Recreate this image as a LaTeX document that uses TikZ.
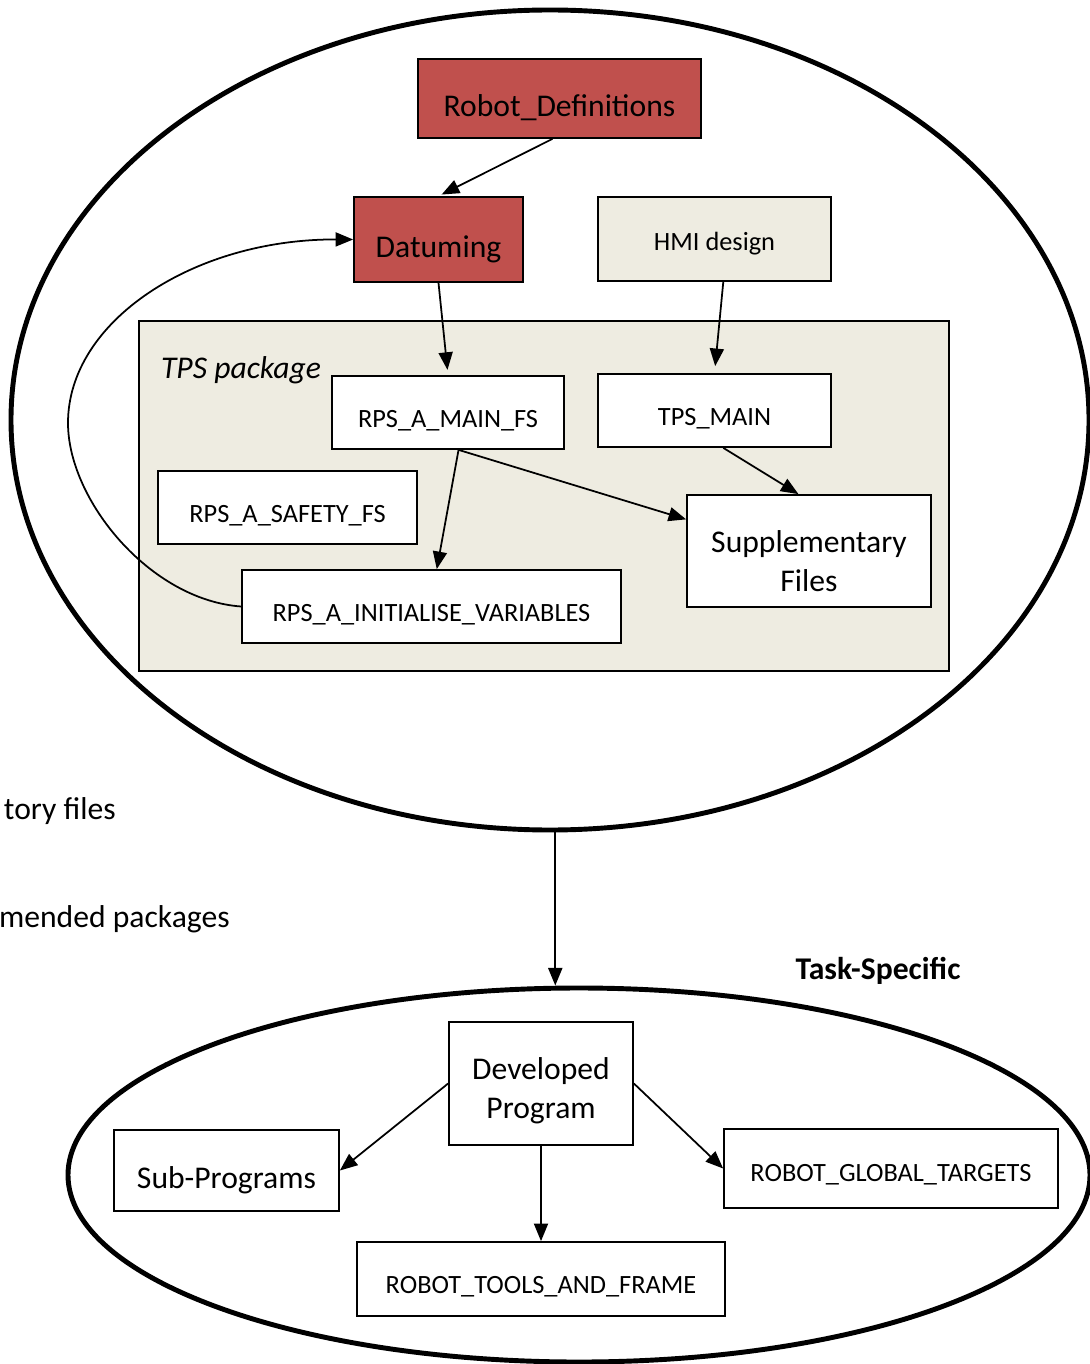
\documentclass[tikz,border=0pt]{standalone}
\usepackage{fontspec}
\setmainfont{Carlito}
\usetikzlibrary{arrows.meta,shapes.geometric}

\definecolor{boxred}{HTML}{C0504D}
\definecolor{pkgbeige}{HTML}{EEECE1}
\newcommand{\bigtxt}{\fontsize{18}{22}\selectfont}
\newcommand{\smalltxt}{\fontsize{15}{18}\selectfont}

\begin{document}
\begin{tikzpicture}[x=0.02cm, y=-0.02cm,
    px/.style 2 args={minimum width=#1*0.02cm, minimum height=#2*0.02cm},
    box/.style={draw, line width=1pt, fill=white, inner sep=0pt,
      text height=19pt, text depth=2pt, font=\smalltxt},
    bigbox/.style={box, text height=23pt, font=\bigtxt},
    redbox/.style={bigbox, fill=boxred},
    link/.style={-{Triangle[length=10pt,width=8pt]}, line width=1pt},
    ring/.style={draw, ellipse, line width=2.8pt, inner sep=0pt}]

  \useasboundingbox (0,0) rectangle (1089,1364);

  % the two groups
  \node[ring, px={1078}{820}] (upper) at (550,420) {};
  \node[ring, px={1022}{374}] (lower) at (579,1175) {};

  % TPS package
  \node[draw, line width=1pt, fill=pkgbeige, px={810}{350}] (pkg) at (544,496) {};
  \node[font=\bigtxt\itshape] (pkglabel) at (241,370) {TPS package};

  \node[redbox, px={283}{79}] (robotdef) at (559.5,98.5) {Robot\_Definitions};
  \node[redbox, px={169}{85}] (datum) at (438.5,239.5) {Datuming};
  \node[box, fill=pkgbeige, text height=15pt, px={233}{84}] (hmi) at (714.5,239) {HMI design};

  \node[box, px={232}{73}] (mainfs) at (448,412.5) {RPS\_A\_MAIN\_FS};
  \node[box, px={233}{73}] (tpsmain) at (714.5,410.5) {TPS\_MAIN};
  \node[box, px={259}{73}] (safety) at (287.5,507.5) {RPS\_A\_SAFETY\_FS};
  \node[bigbox, align=center, text height=46pt, text depth=0pt, px={244}{112}] (supp) at (809,551) {Supplementary\\Files};
  \node[box, px={379}{73}] (init) at (431.5,606.5) {RPS\_A\_INITIALISE\_VARIABLES};

  \draw[link, shorten >=2pt] ([xshift=-4pt]robotdef.south) -- (datum.north);
  \draw[link, shorten >=3pt] (datum.south) -- (mainfs.north);
  \draw[link, shorten >=4pt] ([xshift=5pt]hmi.south) -- (tpsmain.north);
  \draw[link] ([xshift=6pt]mainfs.south) -- ([xshift=3pt]init.north);
  \draw[link] ([xshift=6pt]mainfs.south) -- ([yshift=18pt]supp.west);
  \draw[link] ([xshift=5pt]tpsmain.south) -- ([xshift=-6pt]supp.north);
  \draw[link] (init.west) .. controls (150,600) and (68,500) .. (68,423)
    .. controls (68,321) and (194,239) .. (datum.west);

  % side texts
  \node[font=\bigtxt, anchor=east, inner sep=0pt] (mandatory) at (116,811) {tory files};
  \node[font=\bigtxt, anchor=east, inner sep=0pt] (recommended) at (230,919) {mended packages};
  \node[font=\bigtxt\bfseries] (taskspec) at (878,971) {Task-Specific};

  \draw[link] ([xshift=3pt]upper.south) -- ([xshift=3pt]upper.south |- lower.north);

  % task-specific group
  \node[bigbox, align=center, text height=43pt, text depth=3pt, px={184}{123}] (devprog) at (541,1083.5) {Developed\\Program};
  \node[bigbox, px={225}{81}] (subprog) at (226.5,1170.5) {Sub-Programs};
  \node[box, text height=17pt, px={334}{79}] (globtgt) at (891,1168.5) {ROBOT\_GLOBAL\_TARGETS};
  \node[box, px={368}{74}] (toolsframe) at (541,1279) {ROBOT\_TOOLS\_AND\_FRAME};

  \draw[link] (devprog.west) -- (subprog.east);
  \draw[link] (devprog.east) -- (globtgt.west);
  \draw[link] (devprog.south) -- (toolsframe.north);

\end{tikzpicture}
\end{document}
